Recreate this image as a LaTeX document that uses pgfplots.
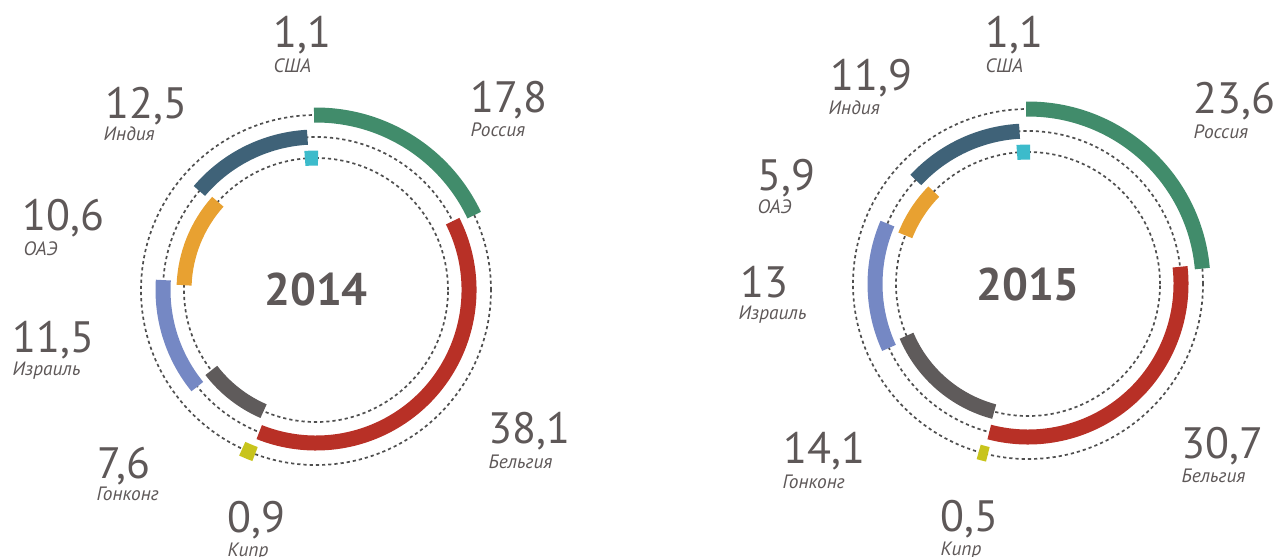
\documentclass[border=0pt]{standalone}
\usepackage{pgfplots}
\usepackage{pgfplotstable}
\usepackage{fontspec}
\setmainfont{PT Sans}
\pgfplotsset{compat=1.18}

% segment colours, by index
\definecolor{seg0}{HTML}{418C6B}% Russia
\definecolor{seg1}{HTML}{B83026}% Belgium
\definecolor{seg2}{HTML}{C8C41C}% Cyprus
\definecolor{seg3}{HTML}{5F5B5B}% Hong Kong
\definecolor{seg4}{HTML}{7588C4}% Israel
\definecolor{seg5}{HTML}{E8A131}% UAE
\definecolor{seg6}{HTML}{3F6278}% India
\definecolor{seg7}{HTML}{3CBBCB}% USA
\definecolor{txt}{HTML}{5E5858}
\definecolor{ring}{HTML}{4F4F4F}

\pgfdeclareplotmark{blank}{}
\tikzset{guide/.style={ring, line width=0.17mm, dash pattern=on 0.32mm off 0.3mm}}

% x y = centre (px), start/val in %, r = ring radius (px), c = colour index
\pgfplotstableread{
x   y   start val  r   c
316 290 0     17.8 175 0
316 290 17.8  38.1 153 1
316 290 55.9  0.9  175 2
316 290 56.8  7.6  132 3
316 290 64.4  11.5 153 4
316 290 75.9  10.6 132 5
316 290 86.5  12.5 153 6
316 290 99.0  1.1  132 7
}\dataA

\pgfplotstableread{
x    y   start val  r   c
1028 284 0     23.6 175 0
1028 284 23.6  30.7 153 1
1028 284 54.3  0.5  175 2
1028 284 54.8  14.1 132 3
1028 284 68.9  13.0 153 4
1028 284 81.9  5.9  132 5
1028 284 87.8  11.9 153 6
1028 284 99.7  1.1  132 7
}\dataB

% one arc per row, #1 = total of the year; ends padded by ~2px
\pgfplotsset{
  ringseg/.style={
    scatter, only marks, mark=blank,
    visualization depends on={\thisrow{start} \as \segst},
    visualization depends on={\thisrow{val} \as \segval},
    visualization depends on={\thisrow{r} \as \segrad},
    visualization depends on={\thisrow{c} \as \segc},
    scatter/@pre marker code/.code={%
      \pgfmathsetmacro\segK{360/#1}%
      \pgfmathsetmacro\segP{114.6/\segrad}%
      \pgfmathsetmacro\segA{90-\segK*\segst+\segP}%
      \pgfmathsetmacro\segB{90-\segK*(\segst+\segval)-\segP}%
      \pgfmathsetmacro\segR{\segrad/10}%
      \pgfmathtruncatemacro\segI{\segc}%
      \draw[draw=seg\segI, line width=1.5mm] (\segA:\segR mm) arc[start angle=\segA, end angle=\segB, radius=\segR mm];
    },
    scatter/@post marker code/.code={},
  },
}

\newcommand\num[3]{\node[anchor=base west, inner sep=0pt, text=txt, font=\fontsize{12.5}{13}\selectfont] at (axis cs:#1,#2) {#3};}
\newcommand\lab[3]{\node[anchor=base west, inner sep=0pt, text=txt, font=\fontsize{5.5}{6}\selectfont\itshape] at (axis cs:#1,#2) {#3};}

\begin{document}
\begin{tikzpicture}
\begin{axis}[
    width=12.77cm, height=5.56cm, scale only axis,
    xmin=0, xmax=1277, ymin=0, ymax=556,
    y dir=reverse,
    hide axis, clip=false
]
% dotted guide rings
\draw[guide] (axis cs:316,290) circle[radius=17.5mm];
\draw[guide] (axis cs:316,290) circle[radius=15.3mm];
\draw[guide] (axis cs:316,290) circle[radius=13.2mm];
\draw[guide] (axis cs:1028,284) circle[radius=17.5mm];
\draw[guide] (axis cs:1028,284) circle[radius=15.3mm];
\draw[guide] (axis cs:1028,284) circle[radius=13.2mm];

\addplot[ringseg={100.1}] table[x=x, y=y] {\dataA};
\addplot[ringseg={100.8}] table[x=x, y=y] {\dataB};

% 2014
\node[text=txt, font=\fontsize{13}{13}\selectfont\bfseries] at (axis cs:316,289) {2014};
\num{273}{47}{1,1}    \lab{273}{72}{США}
\num{470}{112}{17,8}  \lab{470}{136}{Россия}
\num{488}{443}{38,1}  \lab{488}{468}{Бельгия}
\num{227}{532}{0,9}   \lab{227}{556}{Кипр}
\num{97}{478}{7,6}    \lab{96}{500}{Гонконг}
\num{12}{352}{11,5}   \lab{12}{375}{Израиль}
\num{22}{230}{10,6}   \lab{23}{255}{ОАЭ}
\num{105}{118}{12,5}  \lab{103}{140}{Индия}

% 2015
\node[text=txt, font=\fontsize{13}{13}\selectfont\bfseries] at (axis cs:1028,284) {2015};
\num{985}{47}{1,1}    \lab{985}{72}{США}
\num{1193}{113}{23,6} \lab{1193}{138}{Россия}
\num{1181}{458}{30,7} \lab{1181}{482}{Бельгия}
\num{940}{531}{0,5}   \lab{940}{555}{Кипр}
\num{783}{463}{14,1}  \lab{782}{488}{Гонконг}
\num{740}{297}{13}    \lab{738}{319}{Израиль}
\num{757}{190}{5,9}   \lab{757}{213}{ОАЭ}
\num{830}{90}{11,9}   \lab{828}{114}{Индия}
\end{axis}
\pgfresetboundingbox
\path (current axis.south west) rectangle (current axis.north east);
\end{tikzpicture}
\end{document}
